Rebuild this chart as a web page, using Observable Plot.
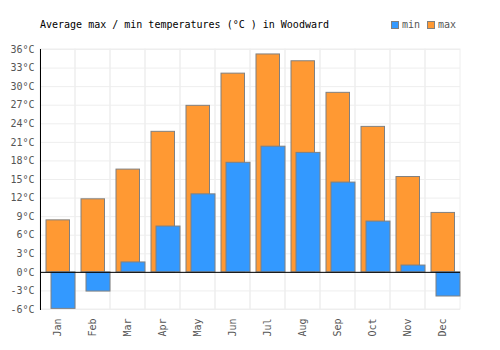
<!DOCTYPE html>
<html>
<head>
<meta charset="utf-8">
<script src="https://cdn.jsdelivr.net/npm/d3@7"></script>
<script src="https://cdn.jsdelivr.net/npm/@observablehq/plot@0.6"></script>
<style>
  body { margin: 0; background: #fff; }
  #wrap { position: relative; width: 500px; height: 350px; font-family: "DejaVu Sans Mono", monospace; }
  #title { position: absolute; left: 40px; top: 19px; font-size: 10px; color: #000; white-space: pre; }
  #legend { position: absolute; left: 391px; top: 19px; font-size: 10px; color: #555; display: flex; align-items: center; }
  .sw { display: inline-block; width: 6px; height: 6px; border: 1px solid #808080; margin-right: 3px; }
  .item { display: flex; align-items: center; margin-right: 7px; }
  svg { position: absolute; left: 0; top: 0; }
</style>
</head>
<body>
<div id="wrap">
  <div id="title">Average max / min temperatures (°C ) in Woodward</div>
  <div id="legend">
    <span class="item"><span class="sw" style="background:#3399ff"></span>min</span>
    <span class="item"><span class="sw" style="background:#ff9933"></span>max</span>
  </div>
</div>
<script>
const months = ["Jan","Feb","Mar","Apr","May","Jun","Jul","Aug","Sep","Oct","Nov","Dec"];
const maxTemps = [8.4, 11.8, 16.6, 22.7, 26.9, 32.1, 35.2, 34.1, 29.0, 23.5, 15.4, 9.6];
const minTemps = [-5.9, -3.1, 1.6, 7.4, 12.6, 17.7, 20.3, 19.3, 14.5, 8.2, 1.1, -3.9];
const yTicks = [-6, -3, 0, 3, 6, 9, 12, 15, 18, 21, 24, 27, 30, 33, 36];

const data = months.map((m, i) => ({month: m, max: maxTemps[i], min: minTemps[i]}));

const chart = Plot.plot({
  width: 500,
  height: 350,
  marginLeft: 40,
  marginRight: 40,
  marginTop: 49,
  marginBottom: 41,
  style: {fontFamily: "DejaVu Sans Mono, monospace", fontSize: "10px", color: "#555", background: "transparent"},
  x: {domain: months, padding: 0, tickRotate: -90, tickSize: 0, tickPadding: 9, label: null},
  y: {domain: [yTicks[0], yTicks[yTicks.length - 1]], ticks: yTicks, tickFormat: d => d + "°C", tickSize: 0, tickPadding: 6, label: null},
  marks: [
    Plot.ruleY(yTicks, {stroke: "#eee", strokeWidth: 1}),
    Plot.barY(months, {x: d => d, y1: yTicks[0], y2: yTicks[yTicks.length - 1], fill: "none", stroke: "#eee", strokeWidth: 1}),
    Plot.barY(data, {x: "month", y: "max", fill: "#ff9933", stroke: "#808080", strokeWidth: 1, insetLeft: 6, insetRight: 5.5}),
    Plot.barY(data, {x: "month", y: "min", fill: "#3399ff", stroke: "#808080", strokeWidth: 1, insetLeft: 11, insetRight: 0}),
    Plot.ruleY([0], {stroke: "#000", strokeWidth: 1}),
    Plot.frame({anchor: "left", stroke: "#000", strokeWidth: 1})
  ]
});
document.getElementById("wrap").appendChild(chart);
</script>
</body>
</html>
